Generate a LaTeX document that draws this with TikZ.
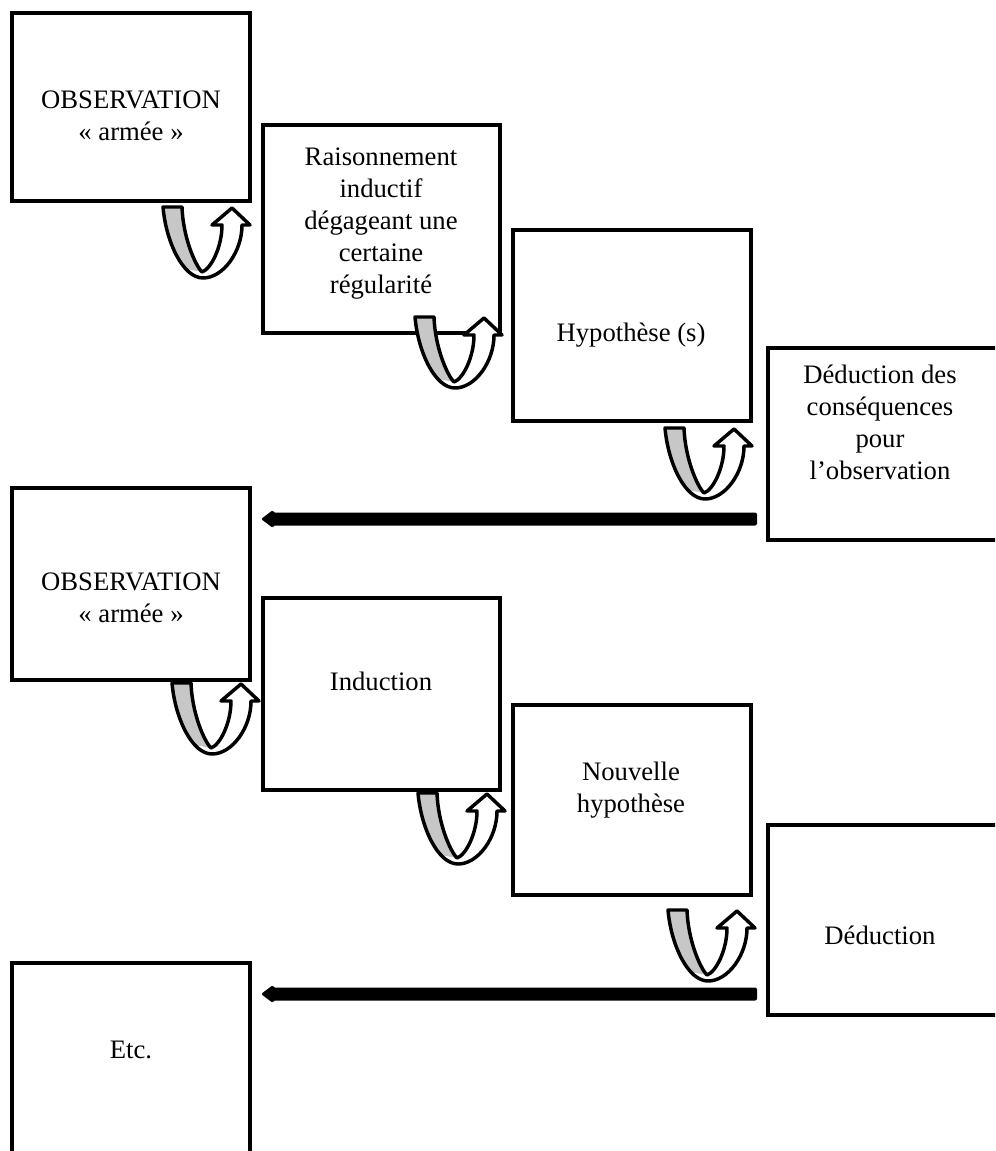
\documentclass[tikz,border=0pt]{standalone}
\usepackage{fontspec}
\setmainfont{Liberation Serif}
\usetikzlibrary{calc}
\begin{document}
\begin{tikzpicture}[x=0.75pt,y=-0.75pt,
  box/.style={draw=black, line width=3pt, rectangle, inner sep=0pt, outer sep=0pt, fill=white},
  lbl/.style={font=\fontsize{20}{24}\selectfont, align=center, inner sep=0pt},
  uline/.style={draw=black, line width=2.6pt, line join=round},
  ufill/.style={fill=black!22},
  bigarrow/.style={fill=black, rounded corners=1.5pt},
  uturn/.pic={
    \path[fill=white] (0,0) .. controls (3,35) and (20,71) .. (40,71) .. controls (60,71) and (79,45) .. (79,18) -- (87,18) -- (69,1) -- (49,18) -- (59,18) .. controls (59,40) and (48,62) .. (39,65) .. controls (32,58) and (20,30) .. (19,0) -- cycle;
    \path[ufill] (0,0) -- (19,0) .. controls (20,30) and (32,58) .. (39,65) -- (23,62) .. controls (10,48) and (2,30) .. (0,0) -- cycle;
    \draw[uline] (0,0) .. controls (3,35) and (20,71) .. (40,71) .. controls (60,71) and (79,45) .. (79,18) -- (87,18) -- (69,1) -- (49,18) -- (59,18) .. controls (59,40) and (48,62) .. (39,65) .. controls (32,58) and (20,30) .. (19,0) -- cycle;
  }
]
\useasboundingbox (0,0) rectangle (995,1151);
\clip (0,0) rectangle (995,1151);

% boxes
\node[box, minimum width=178.5pt, minimum height=141pt]    (B1) at (131,107) {};
\node[box, minimum width=177.75pt, minimum height=156pt]   (B2) at (381.5,229) {};
\node[box, minimum width=178.5pt, minimum height=143.25pt] (B3) at (632,325.5) {};
\node[box, minimum width=174pt, minimum height=144pt]      (B4) at (884,444) {};
\node[box, minimum width=178.5pt, minimum height=144pt]    (B5) at (131,584) {};
\node[box, minimum width=177.75pt, minimum height=144pt]   (B6) at (381.5,694) {};
\node[box, minimum width=178.5pt, minimum height=142.5pt]  (B7) at (632,800) {};
\node[box, minimum width=174pt, minimum height=142.5pt]    (B8) at (884,920) {};
\node[box, minimum width=178.5pt, minimum height=151.5pt]  (B9) at (131,1064) {};

% texts
\node[lbl] (T1) at (131,115.5) {OBSERVATION\\«~armée~»};
\node[lbl] (T2) at (381,223.5) {Raisonnement\\inductif\\dégageant une\\certaine\\régularité};
\node[lbl] (T3) at (631,335) {Hypothèse (s)};
\node[lbl] (T4) at (880,422.5) {Déduction des\\conséquences\\pour\\l’observation};
\node[lbl] (T5) at (131,597.5) {OBSERVATION\\«~armée~»};
\node[lbl] (T6) at (381,681) {Induction};
\node[lbl] (T7) at (631,790.5) {Nouvelle\\hypothèse};
\node[lbl] (T8) at (880,935) {Déduction};
\node[lbl] (T9) at (131,1050) {Etc.};

% U-turn arrows
\pic at ($(B1.south east)+(-87,6)$) {uturn};
\pic at ($(B2.south east)+(-85,-16)$) {uturn};
\pic at ($(B3.south east)+(-86,7)$) {uturn};
\pic at ($(B5.south east)+(-78,3)$) {uturn};
\pic at ($(B6.south east)+(-82,3)$) {uturn};
\pic at ($(B7.south east)+(-83,15)$) {uturn};

% big return arrows
\coordinate (A1s) at ($(B4.south west)+(-11,-21)$);
\coordinate (A1e) at ($(B5.east |- A1s)+(11,0)$);
\fill[bigarrow] ($(A1s)+(0,-6.5)$) -- ($(A1e)+(12,-6.5)$) -- ($(A1e)+(12,-9)$) -- (A1e) -- ($(A1e)+(12,9)$) -- ($(A1e)+(12,6.5)$) -- ($(A1s)+(0,6.5)$) -- cycle;
\coordinate (A2s) at ($(B8.south west)+(-11,-21)$);
\coordinate (A2e) at ($(B9.east |- A2s)+(11,0)$);
\fill[bigarrow] ($(A2s)+(0,-6.5)$) -- ($(A2e)+(12,-6.5)$) -- ($(A2e)+(12,-9)$) -- (A2e) -- ($(A2e)+(12,9)$) -- ($(A2e)+(12,6.5)$) -- ($(A2s)+(0,6.5)$) -- cycle;
\end{tikzpicture}
\end{document}
